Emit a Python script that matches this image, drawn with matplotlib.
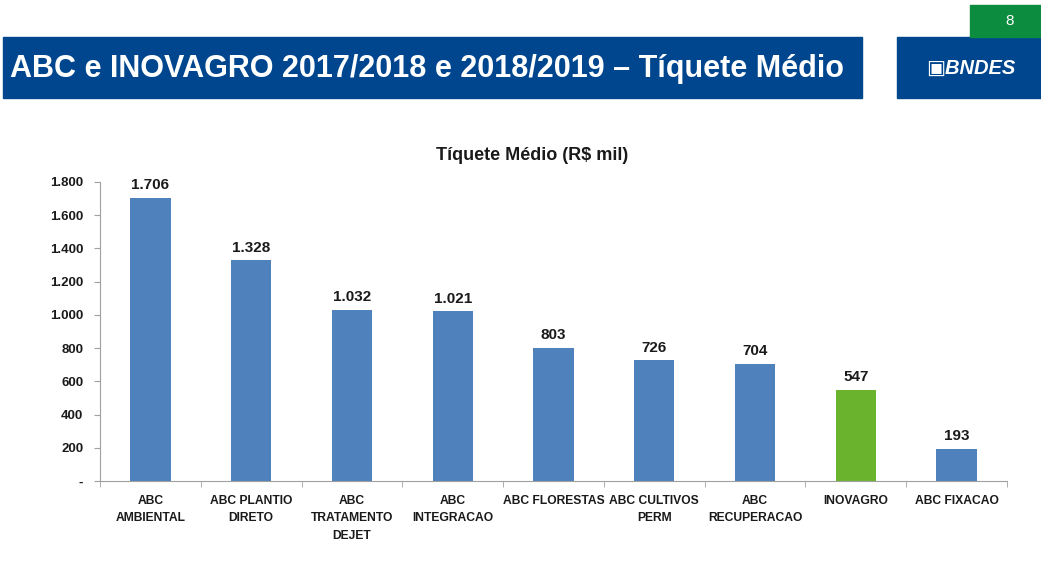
import matplotlib.pyplot as plt
from matplotlib.patches import Rectangle
from matplotlib.ticker import FixedLocator

# data
categories = ["ABC\nAMBIENTAL", "ABC PLANTIO\nDIRETO", "ABC\nTRATAMENTO\nDEJET",
              "ABC\nINTEGRACAO", "ABC FLORESTAS", "ABC CULTIVOS\nPERM",
              "ABC\nRECUPERACAO", "INOVAGRO", "ABC FIXACAO"]
values = [1706, 1328, 1032, 1021, 803, 726, 704, 547, 193]
value_labels = ["1.706", "1.328", "1.032", "1.021", "803", "726", "704", "547", "193"]
y_ticks = [0, 200, 400, 600, 800, 1000, 1200, 1400, 1600, 1800]
y_tick_labels = ["-", "200", "400", "600", "800", "1.000", "1.200", "1.400", "1.600", "1.800"]

blue = "#4F81BD"
green = "#6AB42D"
colors = [green if c == "INOVAGRO" else blue for c in categories]

W, H = 1041, 587
fig = plt.figure(figsize=(W / 100, H / 100), dpi=100)
fig.patch.set_facecolor("white")

# header boxes (figure pixel coords -> fractions)
def box(x0, y0, x1, y1, color):
    fig.patches.append(Rectangle((x0 / W, 1 - y1 / H), (x1 - x0) / W, (y1 - y0) / H,
                                 transform=fig.transFigure, color=color, zorder=1))

box(3, 37, 862, 98, "#00468E")
box(897, 37, 1041, 98, "#00468E")
box(970, 5, 1041, 37, "#0B8C3E")
title_font = ["Liberation Sans", "DejaVu Sans"]
fig.text(10 / W, 1 - 69 / H, "ABC e INOVAGRO 2017/2018 e 2018/2019 \u2013 Tíquete Médio",
         color="white", fontsize=22, fontweight="bold", family=title_font,
         ha="left", va="center")
fig.text(971 / W, 1 - 68 / H, "\u25A3BNDES", color="white", fontsize=14.5,
         fontweight="bold", style="italic", family=title_font, ha="center", va="center")
fig.text(1010 / W, 1 - 21 / H, "8", color="white", fontsize=11,
         family=title_font, ha="center", va="center")

chart_font = ["Liberation Sans", "DejaVu Sans"]

# chart area
ax = fig.add_axes([100 / W, 1 - 481 / H, 907 / W, (481 - 182) / H])
ax.set_facecolor("none")
x = range(len(categories))
ax.bar(x, values, width=0.4, color=colors, zorder=2)
for xi, v, lab in zip(x, values, value_labels):
    ax.text(xi, v + 35, lab, ha="center", va="bottom", fontsize=11,
            fontweight="bold", color="#1a1a1a", family=chart_font)

ax.set_xlim(-0.5, len(categories) - 0.5)
ax.set_ylim(0, 1800)
ax.set_yticks(y_ticks)
ax.set_yticklabels(y_tick_labels, fontsize=9.5, fontweight="bold", color="#1a1a1a",
                   family=chart_font)
ax.set_xticks(list(x))
ax.set_xticklabels(categories, fontsize=8.7, fontweight="bold", color="#1a1a1a",
                   linespacing=1.6, family=chart_font)
ax.tick_params(axis="x", length=0, pad=10)
ax.xaxis.set_minor_locator(FixedLocator([i - 0.5 for i in range(len(categories) + 1)]))
ax.tick_params(axis="x", which="minor", length=4, color="#a0a0a0")
ax.tick_params(axis="y", length=4, color="#a0a0a0", pad=8)
for s in ["top", "right"]:
    ax.spines[s].set_visible(False)
for s in ["left", "bottom"]:
    ax.spines[s].set_color("#a0a0a0")

fig.text(532 / W, 1 - 156 / H, "Tíquete Médio (R$ mil)", fontsize=13,
         fontweight="bold", ha="center", va="center", color="#1a1a1a", family=chart_font)

fig.savefig("out.png", dpi=100)
